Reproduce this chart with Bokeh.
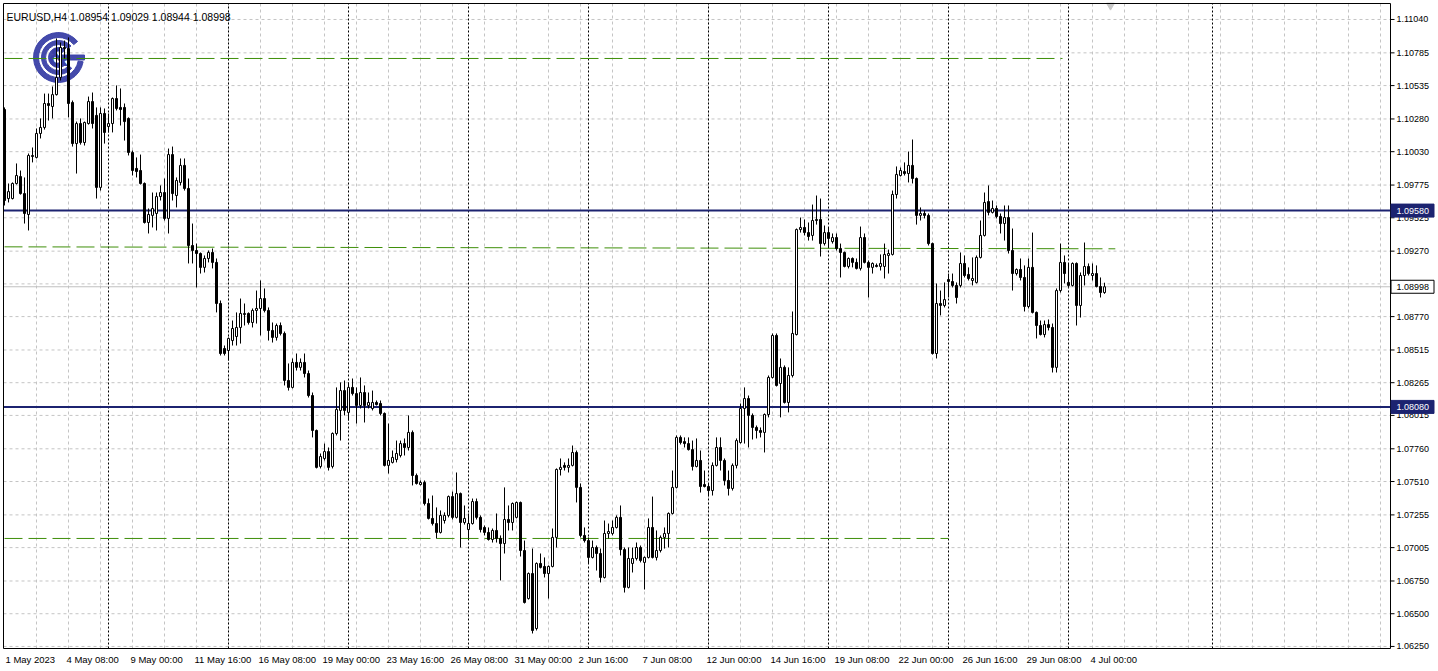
from bokeh.plotting import figure
from bokeh.models import Range1d, ColumnDataSource
from bokeh.embed import file_html
from bokeh.resources import INLINE
from bokeh.core.properties import value

symbol = "EURUSD,H4"

opens = [1.10352,1.09672,1.09672,1.09787,1.09840,1.09710,1.09550,1.09993,1.09986,1.10169,
1.10215,1.10398,1.10375,1.10466,1.10597,1.10826,1.10818,1.10406,1.10092,1.10245,
1.10100,1.10245,1.10413,1.10307,1.09757,1.10322,1.10222,1.10245,1.10436,1.10368,
1.10368,1.10284,1.10024,1.09902,1.09886,1.09787,1.09489,1.09543,1.09558,1.09687,
1.09718,1.09520,1.10008,1.09695,1.09795,1.09925,1.09749,1.09313,1.09275,1.09252,
1.09146,1.09214,1.09260,1.09184,1.08870,1.08526,1.08511,1.08587,1.08618,1.08687,
1.08786,1.08794,1.08725,1.08817,1.08832,1.08908,1.08817,1.08664,1.08611,1.08702,
1.08641,1.08282,1.08229,1.08420,1.08382,1.08420,1.08335,1.08167,1.07900,1.07625,
1.07686,1.07739,1.07625,1.07877,1.08053,1.08205,1.08038,1.08229,1.08182,1.08091,
1.08190,1.08091,1.08068,1.08114,1.08106,1.08030,1.07633,1.07656,1.07678,1.07709,
1.07800,1.07770,1.07885,1.07556,1.07487,1.07503,1.07342,1.07228,1.07189,1.07121,
1.07212,1.07251,1.07395,1.07236,1.07418,1.07197,1.07143,1.07189,1.07357,1.07236,
1.07159,1.07121,1.07067,1.07136,1.07075,1.07036,1.07220,1.07197,1.07236,1.07350,
1.06983,1.06616,1.06807,1.06387,1.06884,1.06861,1.06807,1.06861,1.07083,1.07602,
1.07633,1.07618,1.07633,1.07732,1.07465,1.07098,1.07059,1.06930,1.07006,1.06960,
1.06777,1.07113,1.07113,1.07159,1.07236,1.06990,1.06701,1.06884,1.06922,1.07006,
1.06892,1.06930,1.07159,1.06930,1.06983,1.07083,1.07113,1.07266,1.07465,1.07847,
1.07815,1.07800,1.07754,1.07625,1.07671,1.07487,1.07472,1.07441,1.07633,1.07770,
1.07671,1.07518,1.07457,1.07633,1.07808,1.08068,1.08144,1.08015,1.07923,1.07900,
1.07885,1.08022,1.08305,1.08626,1.08259,1.08382,1.08114,1.08320,1.08633,1.09435,
1.09451,1.09412,1.09390,1.09504,1.09512,1.09328,1.09412,1.09343,1.09374,1.09290,
1.09260,1.09153,1.09214,1.09184,1.09138,1.09374,1.09184,1.09146,1.09161,1.09153,
1.09153,1.09237,1.09245,1.09703,1.09848,1.09878,1.09863,1.09925,1.09825,1.09543,
1.09558,1.09543,1.09328,1.08488,1.08870,1.08855,1.09053,1.09038,1.09008,1.09008,
1.09176,1.09092,1.09046,1.09031,1.09222,1.09390,1.09649,1.09566,1.09596,1.09535,
1.09481,1.09527,1.09275,1.09099,1.09130,1.09069,1.08847,1.09146,1.08802,1.08702,
1.08633,1.08709,1.08687,1.08382,1.08969,1.09184,1.09031,1.09008,1.09176,1.08855,
1.09084,1.09153,1.09084,1.09099,1.09000,1.08954]

highs = [1.10368,1.09787,1.09795,1.09940,1.09886,1.09833,1.10016,1.10062,1.10207,1.10284,
1.10474,1.10474,1.10528,1.10895,1.10864,1.10879,1.10903,1.10421,1.10260,1.10284,
1.10260,1.10451,1.10482,1.10368,1.10368,1.10360,1.10322,1.10444,1.10536,1.10513,
1.10398,1.10292,1.10039,1.09986,1.10008,1.09795,1.09596,1.09718,1.09718,1.09772,
1.09825,1.10054,1.10069,1.09833,1.09978,1.09978,1.09825,1.09481,1.09328,1.09260,
1.09237,1.09275,1.09290,1.09214,1.08893,1.08549,1.08611,1.08740,1.08802,1.08908,
1.08870,1.08802,1.08832,1.08969,1.09046,1.08985,1.08840,1.08725,1.08717,1.08725,
1.08656,1.08412,1.08450,1.08488,1.08450,1.08488,1.08358,1.08190,1.07907,1.07724,
1.07800,1.07770,1.07885,1.08229,1.08267,1.08282,1.08267,1.08297,1.08229,1.08305,
1.08244,1.08190,1.08205,1.08129,1.08129,1.08038,1.07953,1.07747,1.07823,1.07823,
1.07839,1.08015,1.07900,1.07571,1.07518,1.07518,1.07380,1.07403,1.07312,1.07289,
1.07274,1.07403,1.07433,1.07579,1.07426,1.07327,1.07266,1.07380,1.07380,1.07251,
1.07174,1.07159,1.07151,1.07266,1.07098,1.07465,1.07327,1.07350,1.07357,1.07357,
1.07059,1.06815,1.06998,1.06892,1.06960,1.06930,1.06869,1.07151,1.07610,1.07686,
1.07656,1.07686,1.07785,1.07747,1.07495,1.07159,1.07083,1.07059,1.07021,1.06998,
1.07212,1.07189,1.07212,1.07251,1.07327,1.07006,1.07006,1.07006,1.07044,1.07021,
1.06937,1.07228,1.07395,1.07136,1.07098,1.07159,1.07274,1.07594,1.07862,1.07862,
1.07847,1.07847,1.07823,1.07839,1.07747,1.07594,1.07495,1.07656,1.07847,1.07847,
1.07686,1.07594,1.07648,1.07839,1.08106,1.08229,1.08167,1.08030,1.07938,1.07923,
1.08030,1.08320,1.08641,1.08641,1.08450,1.08397,1.08382,1.08809,1.09443,1.09527,
1.09512,1.09489,1.09626,1.09695,1.09672,1.09466,1.09451,1.09405,1.09405,1.09328,
1.09267,1.09222,1.09222,1.09214,1.09458,1.09405,1.09199,1.09184,1.09176,1.09245,
1.09328,1.09282,1.09733,1.09917,1.09909,1.09948,1.10031,1.10123,1.09833,1.09604,
1.09581,1.09558,1.09336,1.09023,1.08969,1.09031,1.09099,1.09099,1.09031,1.09260,
1.09237,1.09146,1.09222,1.09237,1.09504,1.09718,1.09772,1.09657,1.09619,1.09558,
1.09619,1.09619,1.09443,1.09138,1.09214,1.09161,1.09214,1.09412,1.08809,1.08740,
1.08740,1.08748,1.08717,1.08985,1.09328,1.09237,1.09176,1.09184,1.09184,1.09107,
1.09336,1.09176,1.09176,1.09161,1.09069,1.09029]

lows = [1.09619,1.09642,1.09665,1.09779,1.09702,1.09481,1.09428,1.09948,1.09978,1.10131,
1.10199,1.10268,1.10284,1.10459,1.10574,1.10742,1.10292,1.10069,1.09863,1.10084,
1.10077,1.10237,1.10207,1.09672,1.09733,1.10092,1.10177,1.10177,1.10345,1.10230,
1.10115,1.10001,1.09848,1.09833,1.09779,1.09481,1.09405,1.09451,1.09428,1.09657,
1.09504,1.09405,1.09657,1.09604,1.09772,1.09733,1.09176,1.09176,1.08993,1.09099,
1.09107,1.09184,1.09138,1.08802,1.08473,1.08473,1.08435,1.08549,1.08549,1.08564,
1.08702,1.08709,1.08687,1.08717,1.08626,1.08802,1.08587,1.08572,1.08587,1.08626,
1.08244,1.08205,1.08221,1.08358,1.08358,1.08305,1.08152,1.07847,1.07610,1.07610,
1.07671,1.07594,1.07610,1.07862,1.07823,1.08015,1.07976,1.08167,1.07953,1.08068,
1.07961,1.08068,1.08053,1.08091,1.08015,1.07625,1.07571,1.07648,1.07656,1.07694,
1.07709,1.07747,1.07480,1.07487,1.07480,1.07327,1.07220,1.07174,1.07075,1.07113,
1.07189,1.07236,1.07220,1.07228,1.07006,1.07181,1.07075,1.07181,1.07220,1.07121,
1.07098,1.07059,1.07044,1.07044,1.06754,1.06960,1.07136,1.07136,1.07228,1.06937,
1.06578,1.06608,1.06349,1.06372,1.06846,1.06777,1.06616,1.06854,1.07006,1.07556,
1.07594,1.07579,1.07625,1.07350,1.07083,1.07044,1.06884,1.06922,1.06830,1.06739,
1.06769,1.07075,1.07098,1.07151,1.06945,1.06662,1.06693,1.06815,1.06907,1.06892,
1.06685,1.06922,1.06922,1.06907,1.06968,1.06998,1.07006,1.07258,1.07457,1.07793,
1.07770,1.07747,1.07594,1.07618,1.07426,1.07465,1.07403,1.07403,1.07625,1.07594,
1.07480,1.07403,1.07441,1.07610,1.07800,1.07800,1.07770,1.07831,1.07839,1.07847,
1.07732,1.08000,1.08297,1.08236,1.08000,1.08106,1.08038,1.08305,1.08626,1.09412,
1.09390,1.09351,1.09351,1.09473,1.09229,1.09313,1.09298,1.09328,1.09275,1.09069,
1.09146,1.09138,1.09146,1.09130,1.09122,1.09176,1.08916,1.09099,1.09146,1.09122,
1.09061,1.09099,1.09237,1.09672,1.09840,1.09848,1.09795,1.09787,1.09473,1.09504,
1.09520,1.09313,1.08480,1.08450,1.08779,1.08840,1.08916,1.08993,1.08870,1.08993,
1.09069,1.09046,1.09008,1.09023,1.09214,1.09382,1.09543,1.09558,1.09520,1.09405,
1.09351,1.09252,1.08969,1.09084,1.09046,1.08809,1.08832,1.08794,1.08603,1.08626,
1.08611,1.08664,1.08343,1.08343,1.08954,1.09023,1.08993,1.09000,1.08702,1.08763,
1.09008,1.09084,1.09046,1.08993,1.08916,1.08944]

closes = [1.09657,1.09725,1.09787,1.09848,1.09710,1.09558,1.10001,1.10001,1.10169,1.10215,
1.10398,1.10383,1.10466,1.10597,1.10826,1.10818,1.10398,1.10092,1.10245,1.10100,
1.10253,1.10413,1.10245,1.09757,1.10322,1.10177,1.10245,1.10436,1.10360,1.10352,
1.10260,1.10024,1.09886,1.09878,1.09787,1.09489,1.09550,1.09596,1.09687,1.09718,
1.09520,1.10008,1.09710,1.09810,1.09925,1.09749,1.09313,1.09275,1.09252,1.09146,
1.09214,1.09260,1.09184,1.08870,1.08488,1.08488,1.08603,1.08679,1.08687,1.08794,
1.08794,1.08725,1.08817,1.08832,1.08908,1.08817,1.08664,1.08611,1.08702,1.08641,
1.08282,1.08229,1.08420,1.08382,1.08420,1.08335,1.08167,1.07900,1.07618,1.07701,
1.07739,1.07618,1.07877,1.08060,1.08205,1.08053,1.08229,1.08182,1.08091,1.08190,
1.08091,1.08114,1.08114,1.08098,1.08030,1.07633,1.07671,1.07694,1.07724,1.07800,
1.07770,1.07885,1.07556,1.07495,1.07503,1.07342,1.07228,1.07189,1.07121,1.07251,
1.07251,1.07395,1.07236,1.07418,1.07197,1.07228,1.07189,1.07357,1.07236,1.07143,
1.07121,1.07067,1.07136,1.07075,1.07036,1.07220,1.07197,1.07342,1.07350,1.06983,
1.06586,1.06807,1.06372,1.06884,1.06854,1.06807,1.06861,1.07083,1.07602,1.07618,
1.07618,1.07633,1.07732,1.07465,1.07098,1.07059,1.06930,1.07006,1.06960,1.06777,
1.07113,1.07128,1.07159,1.07236,1.06990,1.06701,1.06922,1.06922,1.07006,1.06907,
1.06930,1.07159,1.06930,1.06983,1.07083,1.07113,1.07266,1.07465,1.07847,1.07808,
1.07800,1.07754,1.07625,1.07671,1.07472,1.07472,1.07441,1.07633,1.07770,1.07671,
1.07518,1.07457,1.07633,1.07823,1.08068,1.08144,1.08015,1.07923,1.07900,1.07885,
1.08022,1.08305,1.08626,1.08244,1.08382,1.08114,1.08320,1.08641,1.09435,1.09451,
1.09412,1.09382,1.09504,1.09512,1.09328,1.09412,1.09367,1.09374,1.09290,1.09260,
1.09153,1.09214,1.09184,1.09138,1.09374,1.09184,1.09146,1.09176,1.09153,1.09176,
1.09245,1.09252,1.09703,1.09856,1.09886,1.09863,1.09925,1.09825,1.09543,1.09558,
1.09543,1.09328,1.08488,1.08870,1.08855,1.08900,1.09038,1.09008,1.08916,1.09176,
1.09084,1.09061,1.09061,1.09222,1.09390,1.09642,1.09566,1.09596,1.09535,1.09481,
1.09527,1.09275,1.09099,1.09130,1.09069,1.08847,1.09146,1.08802,1.08702,1.08633,
1.08709,1.08687,1.08382,1.08969,1.09184,1.09099,1.09008,1.09176,1.08855,1.09084,
1.09153,1.09099,1.09099,1.09000,1.08954,1.08998]

time_label_bars = [0, 16, 32, 48, 64, 80, 96, 112, 128, 144, 160, 176, 192, 208, 224, 240, 256, 272]
time_labels = ["1 May 2023", "4 May 08:00", "9 May 00:00", "11 May 16:00", "16 May 08:00",
               "19 May 00:00", "23 May 16:00", "26 May 08:00", "31 May 00:00", "2 Jun 16:00",
               "7 Jun 08:00", "12 Jun 00:00", "14 Jun 16:00", "19 Jun 08:00", "22 Jun 00:00",
               "26 Jun 16:00", "29 Jun 08:00", "4 Jul 00:00"]
week_starts = [26, 56, 86, 116, 146, 176, 206, 236, 266]
time_marker_bar = [302]

price_ticks = [1.11040, 1.10785, 1.10535, 1.10280, 1.10030, 1.09775, 1.09525, 1.09270, 1.09020,
               1.08770, 1.08515, 1.08265, 1.08015, 1.07760, 1.07510, 1.07255, 1.07005, 1.06750,
               1.06500, 1.06250]
key_levels = [1.09580, 1.08080]
green_x0 = [0, 0, 0]
green_y0 = [1.10742, 1.09303, 1.07075]
green_x1 = [264.5, 277.7, 236]
green_y1 = [1.10742, 1.09288, 1.07075]
bid = 1.08998

NAVY = "#1c2370"
GREEN = "#3f8f0a"
GRID = "#c4c4c4"
LOGO = "#3a40a6"
FONT = value("Liberation Sans")

# canvas scale: 4 px per bar (bar 0 centred at px 4), 0.0000764 per px vertically
W, H = 1438, 671
BAR_PX = 4.0
P_TOP = 1.11185
P_PER_PX = 0.0000764
def bx(px):
    return (px - 4.0) / BAR_PX
def py(px):
    return P_TOP - P_PER_PX * px

L, R = bx(3), bx(1390)
T, B = py(3), py(648)

n = len(closes)
src = ColumnDataSource(dict(
    x=list(range(n)), high=highs, low=lows,
    top=[max(o, c) for o, c in zip(opens, closes)],
    bottom=[min(o, c) for o, c in zip(opens, closes)],
    fill=["white" if c >= o else "black" for o, c in zip(opens, closes)],
))

p = figure(width=W, height=H, x_range=Range1d(bx(0), bx(W)), y_range=Range1d(py(H), py(0)),
           output_backend="svg", toolbar_location=None,
           x_axis_location=None, y_axis_location=None, min_border=0,
           background_fill_color="white", border_fill_color="white", outline_line_color=None)
p.grid.visible = False

# grid
p.segment(x0=L, x1=R, y0=price_ticks, y1=price_ticks, line_color=GRID, line_dash="3 3", line_width=1)
vx = list(range(8, 347, 8))
p.segment(x0=vx, x1=vx, y0=B, y1=T, line_color=GRID, line_dash="3 3", line_width=1)

# weekly separators and time marker
p.segment(x0=week_starts, x1=week_starts, y0=B, y1=T, line_color="black", line_dash="2 2", line_width=1)
p.segment(x0=time_marker_bar, x1=time_marker_bar, y0=B, y1=T, line_color="black", line_dash="2 2", line_width=1)

# logo
cx, cy = bx(58), py(57)
for r_in, r_out, a0, a1 in [(20, 25, 0.70, 6.11), (13, 17, 0.75, 5.60), (6.5, 10, 0.9, 5.4)]:
    p.annular_wedge(x=[cx], y=[cy], inner_radius=r_in, outer_radius=r_out,
                    inner_radius_units="screen", outer_radius_units="screen",
                    start_angle=a0, end_angle=a1, color=LOGO, alpha=0.95)
p.rect(x=[bx(72)], y=[cy], width=24, height=5, width_units="screen",
       height_units="screen", color=LOGO, alpha=0.95)
p.text(x=[cx], y=[cy], text=["&"], text_color=LOGO, text_font_size="24px",
       text_font_style="bold", text_align="center", text_baseline="middle",
       text_font=value("DejaVu Sans"))

# level lines
p.segment(x0=L, x1=R, y0=bid, y1=bid, line_color="#c0c0c0", line_width=1)
p.segment(x0=L, x1=R, y0=key_levels, y1=key_levels, line_color=NAVY, line_width=2)
p.segment(x0=green_x0, y0=green_y0, x1=green_x1, y1=green_y1,
          line_color=GREEN, line_dash="18 6", line_width=1)

# candles
p.segment(x0="x", y0="low", x1="x", y1="high", source=src, line_color="black", line_width=1)
p.vbar(x="x", width=0.5, top="top", bottom="bottom", source=src,
       fill_color="fill", line_color="black", line_width=1)

# shift marker
p.scatter(x=[bx(1110)], y=[py(5)], marker="inverted_triangle", size=8, color="#c8c8c8")

# chart frame
p.quad(left=[L], right=[R], top=[T], bottom=[B], fill_color=None, line_color="black", line_width=1)

# price scale
p.segment(x0=R, x1=bx(1394), y0=price_ticks, y1=price_ticks, line_color="black", line_width=1)
p.text(x=bx(1396), y=price_ticks, text=[f"{t:.5f}" for t in price_ticks], text_font=FONT,
       text_font_size="9px", text_align="left", text_baseline="middle", text_color="black")

# markers on price scale
p.rect(x=[bx(1412)] * len(key_levels), y=key_levels, width=43, height=13, width_units="screen",
       height_units="screen", fill_color=NAVY, line_color=NAVY)
p.text(x=bx(1396), y=key_levels, text=[f"{v:.5f}" for v in key_levels], text_font=FONT,
       text_font_size="9px", text_align="left", text_baseline="middle", text_color="white")
p.rect(x=[bx(1412)], y=[bid], width=43, height=13, width_units="screen",
       height_units="screen", fill_color="white", line_color="black")
p.text(x=bx(1396), y=[bid], text=[f"{bid:.5f}"], text_font=FONT,
       text_font_size="9px", text_align="left", text_baseline="middle", text_color="black")

# time scale
tx = [bx(5)] + [b - 0.5 for b in time_label_bars[1:]]
p.text(x=tx, y=py(659), text=time_labels, text_font=FONT, text_font_size="9.5px",
       text_align="left", text_baseline="middle", text_color="black")

# header
p.text(x=[bx(6)], y=[py(16)], text=[f"{symbol}  {opens[-1]:.5f} {highs[-1]:.5f} {lows[-1]:.5f} {closes[-1]:.5f}"],
       text_font=FONT, text_font_size="10.5px", text_align="left", text_baseline="alphabetic",
       text_color="black")

open("out.html", "w").write(file_html(p, INLINE))
